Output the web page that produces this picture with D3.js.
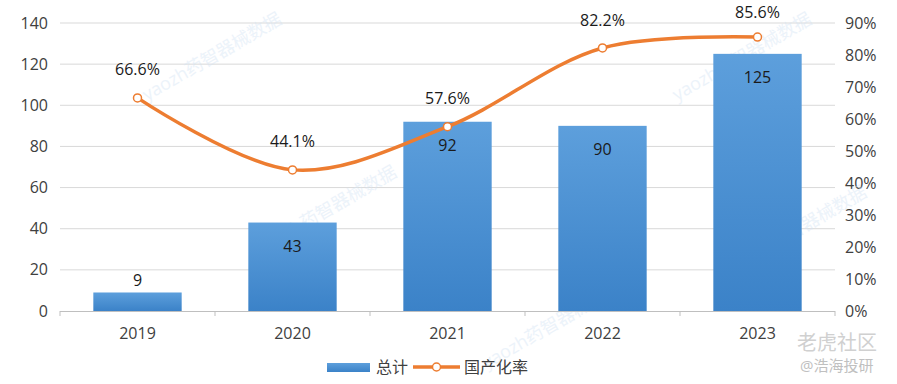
<!DOCTYPE html>
<html>
<head>
<meta charset="utf-8">
<script src="https://cdn.jsdelivr.net/npm/d3@7"></script>
<style>
  body { margin: 0; background: #fff; }
  svg { display: block; font-family: "Open Sans", "Noto Sans CJK SC", sans-serif; }
</style>
</head>
<body>
<svg id="c" width="897" height="384"></svg>
<script>
// data
const years = ['2019', '2020', '2021', '2022', '2023'];
const totals = [9, 43, 92, 90, 125];
const rates = [66.6, 44.1, 57.6, 82.2, 85.6];
const leftTicks = [0, 20, 40, 60, 80, 100, 120, 140];
const rightTicks = [0, 10, 20, 30, 40, 50, 60, 70, 80, 90];

const svg = d3.select('#c');
const plotL = 60, plotR = 835, plotT = 23, plotB = 311;

const x = d3.scaleBand().domain(years).range([plotL, plotR]).paddingInner(0.43).paddingOuter(0.215);
const y = d3.scaleLinear().domain([0, 140]).range([plotB, plotT]);
const y2 = d3.scaleLinear().domain([0, 90]).range([plotB, plotT]);

const defs = svg.append('defs');
const grad = defs.append('linearGradient').attr('id', 'bar').attr('x1', 0).attr('y1', 0).attr('x2', 0).attr('y2', 1);
grad.append('stop').attr('offset', '0%').attr('stop-color', '#5d9fdc');
grad.append('stop').attr('offset', '100%').attr('stop-color', '#3b82c8');

// grid
svg.append('g').selectAll('line').data(leftTicks.slice(1)).join('line')
  .attr('x1', plotL).attr('x2', plotR)
  .attr('y1', d => y(d)).attr('y2', d => y(d))
  .attr('stroke', '#d9d9d9').attr('stroke-width', 1);

// left axis
svg.append('g').selectAll('text').data(leftTicks).join('text')
  .attr('x', 48).attr('y', d => y(d)).attr('dy', '0.35em')
  .attr('text-anchor', 'end').attr('font-size', 16).attr('fill', '#404040')
  .text(d => d);

// right axis
svg.append('g').selectAll('text').data(rightTicks).join('text')
  .attr('x', 845).attr('y', d => y2(d)).attr('dy', '0.35em')
  .attr('text-anchor', 'start').attr('font-size', 16).attr('fill', '#404040')
  .text(d => d + '%');

// faint watermarks
const marks = [[215, 62], [330, 215], [745, 62], [800, 235], [555, 330]];
svg.append('g').selectAll('text').data(marks).join('text')
  .attr('transform', d => `translate(${d[0]},${d[1]}) rotate(-30)`)
  .attr('font-size', 18).attr('fill', '#d6e5f5').attr('opacity', 0.45)
  .attr('text-anchor', 'middle')
  .text('yaozh药智器械数据');

// bars
svg.append('g').selectAll('rect').data(totals).join('rect')
  .attr('x', (d, i) => x(years[i])).attr('width', x.bandwidth())
  .attr('y', d => y(d)).attr('height', d => plotB - y(d))
  .attr('fill', 'url(#bar)');

// x axis
const xa = svg.append('g');
xa.append('line').attr('x1', plotL).attr('x2', plotR).attr('y1', plotB + 0.5).attr('y2', plotB + 0.5)
  .attr('stroke', '#bfbfbf');
const edges = years.map(d => x(d) - x.step() * x.paddingInner() / 2).concat([plotR]);
xa.selectAll('.tk').data(edges).join('line').attr('class', 'tk')
  .attr('x1', d => d).attr('x2', d => d).attr('y1', plotB).attr('y2', plotB + 5)
  .attr('stroke', '#bfbfbf');
xa.selectAll('text').data(years).join('text')
  .attr('x', d => x(d) + x.bandwidth() / 2).attr('y', 333).attr('dy', '0.35em')
  .attr('text-anchor', 'middle').attr('font-size', 16).attr('fill', '#404040')
  .text(d => d);

// bar labels
svg.append('g').selectAll('text').data(totals).join('text')
  .attr('x', (d, i) => x(years[i]) + x.bandwidth() / 2)
  .attr('y', d => d < 20 ? y(d) - 6 : y(d) + 24).attr('dy', d => d < 20 ? 0 : '0.35em')
  .attr('text-anchor', 'middle').attr('font-size', 16).attr('fill', '#1a1a1a')
  .text(d => d);

// line
const cx = i => x(years[i]) + x.bandwidth() / 2;
const line = d3.line().x((d, i) => cx(i)).y(d => y2(d)).curve(d3.curveCatmullRom.alpha(0.5));
svg.append('path').datum(rates).attr('d', line)
  .attr('fill', 'none').attr('stroke', '#ed7d31').attr('stroke-width', 3.5);
svg.append('g').selectAll('circle').data(rates).join('circle')
  .attr('cx', (d, i) => cx(i)).attr('cy', d => y2(d)).attr('r', 4)
  .attr('fill', '#fff').attr('stroke', '#ed7d31').attr('stroke-width', 1.5);
svg.append('g').selectAll('text').data(rates).join('text')
  .attr('x', (d, i) => cx(i)).attr('y', d => Math.max(y2(d) - 28, 12)).attr('dy', '0.35em')
  .attr('text-anchor', 'middle').attr('font-size', 16).attr('fill', '#1a1a1a')
  .text(d => d.toFixed(1) + '%');

// legend
const lg = svg.append('g');
lg.append('rect').attr('x', 327).attr('y', 363).attr('width', 43).attr('height', 9).attr('fill', 'url(#bar)');
lg.append('text').attr('x', 376).attr('y', 367).attr('dy', '0.35em').attr('font-size', 16)
  .attr('fill', '#404040').text('总计');
lg.append('line').attr('x1', 413).attr('x2', 460).attr('y1', 367).attr('y2', 367)
  .attr('stroke', '#ed7d31').attr('stroke-width', 3.5);
lg.append('circle').attr('cx', 436.5).attr('cy', 367).attr('r', 4)
  .attr('fill', '#fff').attr('stroke', '#ed7d31').attr('stroke-width', 1.5);
lg.append('text').attr('x', 464).attr('y', 367).attr('dy', '0.35em').attr('font-size', 16)
  .attr('fill', '#404040').text('国产化率');

// source marks
svg.append('text').attr('x', 797).attr('y', 343).attr('dy', '0.35em').attr('font-size', 20)
  .attr('fill', '#d0d0d0').text('老虎社区');
svg.append('text').attr('x', 800).attr('y', 366).attr('dy', '0.35em').attr('font-size', 15)
  .attr('fill', '#c0c0c0').text('@浩海投研');
</script>
</body>
</html>
